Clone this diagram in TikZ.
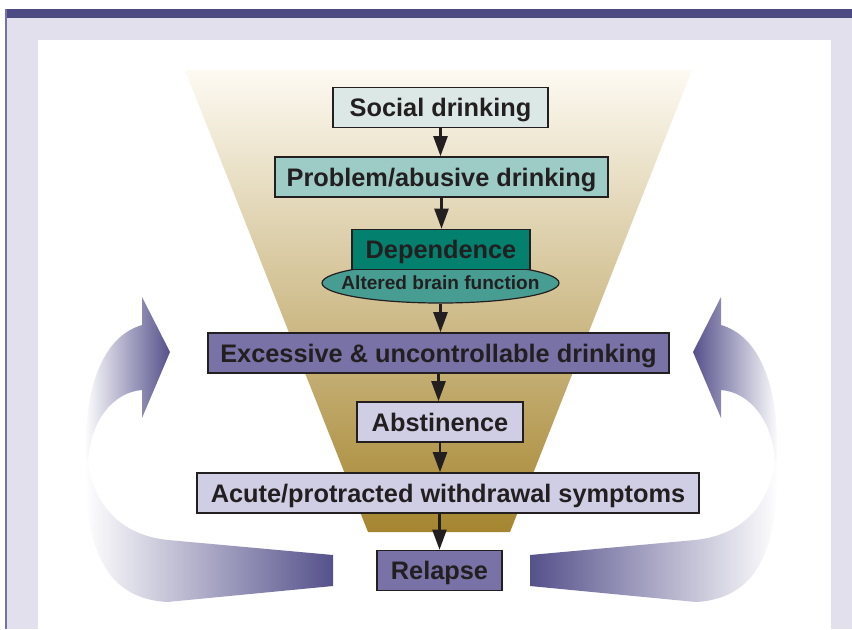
\documentclass[tikz,border=0pt]{standalone}
\usepackage{fontspec}
\setmainfont{Liberation Sans}
\usetikzlibrary{arrows.meta,shapes.geometric}

\definecolor{framebg}{HTML}{E2E0ED}
\definecolor{framebar}{HTML}{4C4A82}
\definecolor{frameline}{HTML}{7571A8}
\definecolor{funneltop}{HTML}{FDFAF2}
\definecolor{funnelmid}{HTML}{D8BE8C}
\definecolor{funnelbot}{HTML}{A5852F}
\definecolor{socialfill}{HTML}{DCE8E5}
\definecolor{problemfill}{HTML}{9DCBC5}
\definecolor{dependfill}{HTML}{04806F}
\definecolor{brainfill}{HTML}{489D93}
\definecolor{darkpurple}{HTML}{7872A6}
\definecolor{lightpurple}{HTML}{D0CEE4}
\definecolor{ribbon}{HTML}{55518B}
\definecolor{ink}{HTML}{231F20}

\tikzset{
  stage/.style={draw=ink, line width=1.2pt, text=ink, inner sep=0pt,
    font=\fontsize{19}{22}\selectfont\bfseries, minimum height=30pt,
    text height=13.6pt, text depth=0pt},
  flow/.style={draw=ink, line width=1.8pt, -{Triangle[length=15pt,width=10.5pt]}},
}

\begin{document}
\begin{tikzpicture}[x=0.75pt,y=-0.75pt]
    % Frame
    \fill[white] (0,0) rectangle (852,629);
    \fill[framebg] (5,9) rectangle (852,629);
    \fill[framebar] (5,9) rectangle (852,18);
    \draw[frameline, line width=1.2pt] (6,9) -- (6,629);
    \fill[white] (38,40) rectangle (831,629);
    \useasboundingbox (0,0) rectangle (852,629);

    % Funnel
    \shade[top color=funneltop, middle color=funnelmid, bottom color=funnelbot]
      (185,70) -- (692,70) -- (510,532) -- (368,532) -- cycle;

    % Relapse loops, left
    \shade[left color=white, right color=ribbon]
      (86,456) .. controls (84,540) and (100,598) .. (167,602) -- (333,586)
      -- (333,555) -- (168,540) .. controls (120,535) and (94,505) .. (88,462) -- cycle;
    \shade[left color=white, right color=ribbon]
      (86,456) .. controls (84,385) and (104,336) .. (142,325) -- (142,297)
      -- (170,352) -- (142,418) -- (142,390) .. controls (114,392) and (90,420) .. (88,462) -- cycle;

    % Relapse loops, right
    \shade[left color=ribbon, right color=white]
      (777,456) .. controls (779,540) and (763,598) .. (696,602) -- (530,586)
      -- (530,555) -- (695,540) .. controls (743,535) and (769,505) .. (775,462) -- cycle;
    \shade[left color=ribbon, right color=white]
      (777,456) .. controls (779,385) and (759,336) .. (721,325) -- (721,297)
      -- (693,352) -- (721,418) -- (721,390) .. controls (749,392) and (773,420) .. (775,462) -- cycle;

    % Stages
    \node[stage, fill=socialfill, minimum width=161.25pt] (social) at (440.5,107.5) {Social drinking};
    \node[stage, fill=problemfill, minimum width=249.75pt] (problem) at (441.5,177) {Problem/abusive drinking};
    \node[ellipse, draw=ink, line width=0.9pt, fill=brainfill, inner sep=0pt,
      minimum width=177.75pt, minimum height=30pt] (brain) at (440.5,283) {};
    \node[text=ink, font=\fontsize{14.3}{16}\selectfont\bfseries] (brainlabel) at (brain.center) {Altered brain function};
    \node[stage, fill=dependfill, minimum width=133.5pt] (depend) at (441,249.5) {Dependence};
    \node[stage, fill=darkpurple, minimum width=345.75pt] (excess) at (438.5,353) {Excessive \& uncontrollable drinking};
    \node[stage, fill=lightpurple, minimum width=124.5pt] (abst) at (440,422) {Abstinence};
    \node[stage, fill=lightpurple, minimum width=376.5pt] (acute) at (448,493) {Acute/protracted withdrawal symptoms};
    \node[stage, fill=darkpurple, minimum width=93.75pt] (relapse) at (439.5,570.5) {Relapse};

    % Flow
    \draw[flow] (social.south) -- (social.south |- problem.north);
    \draw[flow] (problem.south) -- (problem.south |- depend.north);
    \draw[flow] (brain.south) -- (brain.south |- excess.north);
    \draw[flow] (excess.south) -- (excess.south |- abst.north);
    \draw[flow] (abst.south) -- (abst.south |- acute.north);
    \draw[flow] (relapse.north |- acute.south) -- (relapse.north);
\end{tikzpicture}
\end{document}
